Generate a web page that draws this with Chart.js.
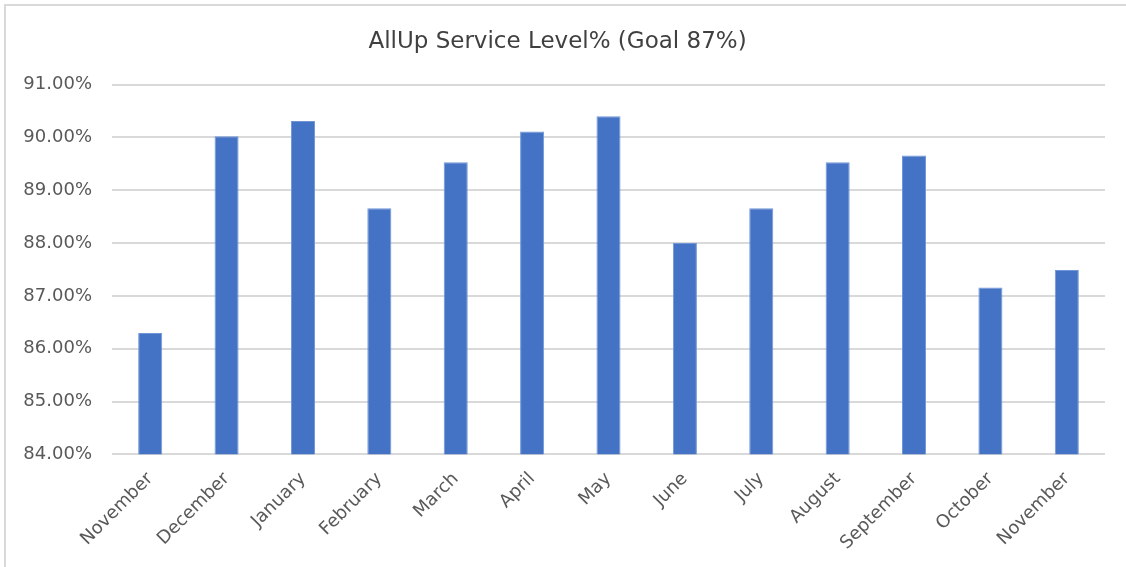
<!DOCTYPE html>
<html lang="en">
  <head>
    <meta charset="UTF-8" />
    <title>AllUp Service Level</title>
    <script src="https://cdn.jsdelivr.net/npm/chart.js"></script>
    <style>
      body {
        margin: 0;
        background: #fff;
        overflow: hidden;
      }
      .frame {
        position: absolute;
        left: 4px;
        top: 4px;
        width: 1200px;
        height: 600px;
        border-left: 2px solid #d9d9d9;
        border-top: 2px solid #d9d9d9;
      }
      .chart-container {
        position: absolute;
        left: 0;
        top: 0;
        width: 1126px;
        height: 567px;
      }
    </style>
  </head>
  <body>
    <div class="frame"></div>
    <div class="chart-container">
      <canvas id="serviceChart"></canvas>
    </div>

    <script>
      const months = [
        "November", "December", "January", "February", "March", "April", "May",
        "June", "July", "August", "September", "October", "November"
      ];
      const serviceLevel = [
        86.30, 90.02, 90.31, 88.66, 89.53, 90.11, 90.40,
        88.00, 88.66, 89.53, 89.66, 87.16, 87.49
      ];
      const yMin = 84;
      const yMax = 91;

      const ctx = document.getElementById("serviceChart").getContext("2d");
      new Chart(ctx, {
        type: "bar",
        data: {
          labels: months,
          datasets: [
            {
              label: "Service Level",
              data: serviceLevel,
              backgroundColor: "#4472C4",
              borderColor: "#7096d8",
              borderWidth: 1,
              categoryPercentage: 1,
              barPercentage: 0.315,
            },
          ],
        },
        options: {
          responsive: true,
          maintainAspectRatio: false,
          animation: false,
          layout: { padding: { left: 10, right: 21, top: 24, bottom: 7 } },
          plugins: {
            legend: { display: false },
            tooltip: { enabled: false },
            title: {
              display: true,
              text: "AllUp Service Level% (Goal 87%)",
              color: "#404040",
              font: { family: "'DejaVu Sans', sans-serif", size: 23, weight: "normal" },
              padding: { top: 4, bottom: 29 },
            },
          },
          scales: {
            x: {
              grid: { display: false },
              border: { display: false },
              ticks: {
                color: "#595959",
                font: { family: "'DejaVu Sans', sans-serif", size: 18 },
                minRotation: 45,
                maxRotation: 45,
                padding: 6,
              },
            },
            y: {
              min: yMin,
              max: yMax,
              afterFit: (scale) => {
                scale.width = 102;
              },
              grid: { color: "#d9d9d9", lineWidth: 2, drawTicks: false },
              border: { display: false },
              ticks: {
                stepSize: 1,
                padding: 20,
                color: "#595959",
                font: { family: "'DejaVu Sans', sans-serif", size: 18 },
                callback: (v) => v.toFixed(2) + "%",
              },
            },
          },
        },
      });
    </script>
  </body>
</html>
